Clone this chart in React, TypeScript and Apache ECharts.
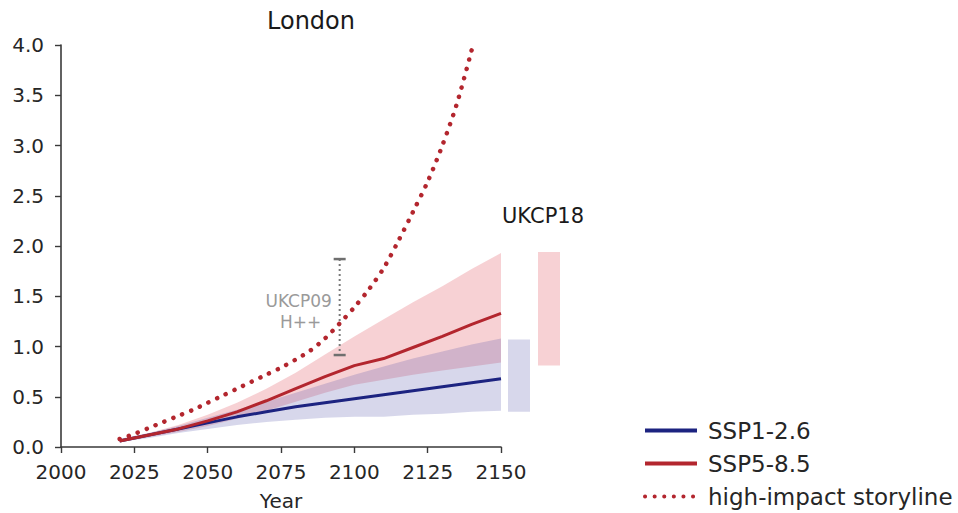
import React, { useEffect, useRef } from 'react';
import * as echarts from 'echarts';

// ---- data ----
const years = [2020, 2030, 2040, 2050, 2060, 2070, 2080, 2090, 2100, 2110, 2120, 2130, 2140, 2150];
const ssp126 = [0.06, 0.12, 0.18, 0.24, 0.3, 0.35, 0.4, 0.44, 0.48, 0.52, 0.56, 0.6, 0.64, 0.68];
const ssp585 = [0.06, 0.12, 0.18, 0.26, 0.35, 0.46, 0.58, 0.7, 0.81, 0.88, 0.99, 1.1, 1.22, 1.33];
const ssp126Low = [0.05, 0.09, 0.14, 0.18, 0.22, 0.25, 0.27, 0.29, 0.3, 0.3, 0.32, 0.33, 0.35, 0.36];
const ssp126High = [0.08, 0.14, 0.21, 0.29, 0.37, 0.45, 0.54, 0.63, 0.72, 0.8, 0.88, 0.95, 1.02, 1.08];
const ssp585Low = [0.05, 0.1, 0.15, 0.21, 0.28, 0.36, 0.45, 0.54, 0.62, 0.67, 0.72, 0.76, 0.8, 0.84];
const ssp585High = [0.08, 0.14, 0.22, 0.32, 0.44, 0.58, 0.74, 0.92, 1.1, 1.27, 1.44, 1.6, 1.77, 1.93];

const storyYears = [2020, 2025, 2030, 2035, 2040, 2045, 2050, 2055, 2060, 2065, 2070, 2075, 2080, 2085, 2090, 2095, 2100, 2105, 2110, 2115, 2120, 2125, 2130, 2135, 2140];
const storyValues = [0.08, 0.13, 0.19, 0.25, 0.31, 0.37, 0.44, 0.51, 0.58, 0.65, 0.72, 0.79, 0.87, 0.96, 1.08, 1.23, 1.39, 1.57, 1.78, 2.05, 2.34, 2.64, 3.0, 3.42, 3.95];

const ukcp18Names = ['SSP1-2.6', 'SSP5-8.5'];
const ukcp18Low = [0.35, 0.81];
const ukcp18High = [1.07, 1.94];

const ukcp09Year = 2095;
const ukcp09Low = 0.915;
const ukcp09High = 1.87;

const xMin = 2000;
const xMax = 2150;
const xInterval = 25;
const yMin = 0;
const yMax = 4;
const yInterval = 0.5;

const legendNames = ['SSP1-2.6', 'SSP5-8.5', 'high-impact storyline'];

const RED = '#b3262e';
const BLUE = '#1c2380';
const RED_FILL = 'rgba(222, 70, 85, 0.25)';
const BLUE_FILL = 'rgba(80, 80, 170, 0.23)';
const FONT = 'DejaVu Sans';

function bandSeries(name: string, low: number[], high: number[], color: string) {
  return {
    type: 'custom',
    name,
    silent: true,
    z: 1,
    data: [[years[0], low[0]]],
    renderItem: (_params: any, api: any) => {
      const pts: number[][] = [];
      for (let i = 0; i < years.length; i++) pts.push(api.coord([years[i], high[i]]));
      for (let i = years.length - 1; i >= 0; i--) pts.push(api.coord([years[i], low[i]]));
      return { type: 'polygon', shape: { points: pts }, style: { fill: color } };
    },
  };
}

export default function App() {
  const ref = useRef<HTMLDivElement>(null);

  useEffect(() => {
    if (!ref.current) return;
    const chart = echarts.init(ref.current, undefined, { renderer: 'svg' });
    const option: any = {
      animation: false,
      backgroundColor: '#ffffff',
      textStyle: { fontFamily: FONT },
      grid: { left: 61, right: 457, top: 45, bottom: 66, containLabel: false, outerBoundsMode: 'none' },
      xAxis: {
        type: 'value',
        min: xMin,
        max: xMax,
        interval: xInterval,
        name: 'Year',
        nameLocation: 'middle',
        nameGap: 44,
        nameTextStyle: { fontSize: 20, color: '#262626', fontFamily: FONT },
        splitLine: { show: false },
        axisLine: { show: true, lineStyle: { color: '#3a3a3a', width: 1.6 } },
        axisTick: { show: true, length: 6, lineStyle: { color: '#3a3a3a', width: 1.4 } },
        axisLabel: {
          fontSize: 20,
          color: '#262626',
          margin: 15,
          fontFamily: FONT,
          formatter: (v: number) => String(v),
        },
      },
      yAxis: {
        type: 'value',
        min: yMin,
        max: yMax,
        interval: yInterval,
        splitLine: { show: false },
        axisLine: { show: true, lineStyle: { color: '#3a3a3a', width: 1.6 } },
        axisTick: { show: true, length: 6, lineStyle: { color: '#3a3a3a', width: 1.4 } },
        axisLabel: {
          fontSize: 20,
          color: '#262626',
          margin: 17,
          fontFamily: FONT,
          formatter: (v: number) => v.toFixed(1),
        },
      },
      legend: {
        data: legendNames,
        orient: 'vertical',
        left: 643,
        top: 419,
        width: 315,
        height: 100,
        padding: 0,
        itemWidth: 52,
        itemHeight: 14,
        itemGap: 10,
        itemStyle: { opacity: 0 },
        lineStyle: { width: 4 },
        textStyle: { fontSize: 23, color: '#262626', fontFamily: FONT, padding: [0, 0, 0, 6] },
        selectedMode: false,
      },
      graphic: [
        {
          type: 'text',
          x: 311,
          y: 21,
          style: { text: 'London', fontSize: 24, fill: '#1a1a1a', align: 'center', verticalAlign: 'middle', fontFamily: FONT },
        },
        {
          type: 'text',
          x: 543,
          y: 216,
          style: { text: 'UKCP18', fontSize: 21, fill: '#1a1a1a', align: 'center', verticalAlign: 'middle', fontFamily: FONT },
        },
      ],
      series: [
        bandSeries('band585', ssp585Low, ssp585High, RED_FILL),
        bandSeries('band126', ssp126Low, ssp126High, BLUE_FILL),
        {
          type: 'custom',
          name: 'UKCP18',
          silent: true,
          z: 1,
          encode: { x: 0, y: [1, 2] },
          data: ukcp18Low.map((l, i) => [xMax, l, ukcp18High[i], ukcp18Names[i]]),
          renderItem: (params: any, api: any) => {
            const cs = params.coordSys;
            const x0 = cs.x + cs.width + 7 + params.dataIndex * 30;
            const yTop = api.coord([xMax, api.value(2)])[1];
            const yBot = api.coord([xMax, api.value(1)])[1];
            return {
              type: 'rect',
              shape: { x: x0, y: yTop, width: 22, height: yBot - yTop },
              style: { fill: params.dataIndex === 0 ? BLUE_FILL : RED_FILL },
            };
          },
        },
        {
          type: 'custom',
          name: 'UKCP09',
          silent: true,
          z: 3,
          encode: { x: 0, y: [1, 2] },
          data: [[ukcp09Year, ukcp09Low, ukcp09High]],
          renderItem: (_params: any, api: any) => {
            const top = api.coord([api.value(0), api.value(2)]);
            const bot = api.coord([api.value(0), api.value(1)]);
            return {
              type: 'group',
              children: [
                {
                  type: 'line',
                  shape: { x1: top[0], y1: top[1], x2: bot[0], y2: bot[1] },
                  style: { stroke: '#7a7a7a', lineWidth: 2, lineDash: [2, 3] },
                },
                {
                  type: 'line',
                  shape: { x1: top[0] - 6, y1: top[1], x2: top[0] + 6, y2: top[1] },
                  style: { stroke: '#6f6f6f', lineWidth: 2.5 },
                },
                {
                  type: 'line',
                  shape: { x1: bot[0] - 6, y1: bot[1], x2: bot[0] + 6, y2: bot[1] },
                  style: { stroke: '#6f6f6f', lineWidth: 2.5 },
                },
                {
                  type: 'text',
                  x: top[0] - 41,
                  y: top[1] + 42,
                  style: { text: 'UKCP09', fontSize: 17, fill: '#9a9a9a', align: 'center', verticalAlign: 'middle', fontFamily: FONT },
                },
                {
                  type: 'text',
                  x: top[0] - 39,
                  y: top[1] + 63,
                  style: { text: 'H++', fontSize: 17, fill: '#9a9a9a', align: 'center', verticalAlign: 'middle', fontFamily: FONT },
                },
              ],
            };
          },
        },
        {
          type: 'line',
          name: 'SSP1-2.6',
          z: 4,
          symbol: 'none',
          data: years.map((y, i) => [y, ssp126[i]]),
          lineStyle: { color: BLUE, width: 3 },
          itemStyle: { color: BLUE, opacity: 0 },
        },
        {
          type: 'line',
          name: 'SSP5-8.5',
          z: 5,
          symbol: 'none',
          data: years.map((y, i) => [y, ssp585[i]]),
          lineStyle: { color: RED, width: 3 },
          itemStyle: { color: RED, opacity: 0 },
        },
        {
          type: 'line',
          name: 'high-impact storyline',
          z: 6,
          symbol: 'none',
          smooth: 0.3,
          data: storyYears.map((y, i) => [y, storyValues[i]]),
          lineStyle: { color: RED, width: 4.5, type: [0.1, 9.5], cap: 'round' },
          itemStyle: { color: RED, opacity: 0 },
        },
      ],
    };
    chart.setOption(option);
    return () => chart.dispose();
  }, []);

  return (
    <div
      ref={ref}
      style={{ position: 'fixed', left: 0, top: 0, width: 958, height: 513, background: '#fff' }}
    />
  );
}
